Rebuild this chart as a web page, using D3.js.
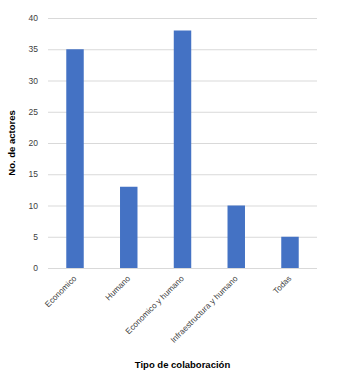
<!DOCTYPE html>
<html><head><meta charset="utf-8">
<script src="https://cdn.jsdelivr.net/npm/d3@7"></script>
<style>body{margin:0;background:#fff}</style>
</head><body>
<script>
const categories = ["Economico","Humano","Economico y humano","Infraestructura y humano","Todas"];
const values = [35, 13, 38, 10, 5];
const yTicks = [0,5,10,15,20,25,30,35,40];
const xTitle = "Tipo de colaboración";
const yTitle = "No. de actores";

const W = 347, H = 372;
const m = {left:48, right:30, top:18, bottom:104};
const svg = d3.select("body").append("svg").attr("width", W).attr("height", H);
const x = d3.scaleBand().domain(categories).range([m.left, W - m.right]).paddingInner(0.675).paddingOuter(0.34);
const y = d3.scaleLinear().domain([0, 40]).range([H - m.bottom, m.top]);

const font = "'Liberation Sans', Arial, sans-serif";

// gridlines
svg.append("g").selectAll("line").data(yTicks).join("line")
  .attr("x1", m.left).attr("x2", W - m.right)
  .attr("y1", d => y(d) + 0.5).attr("y2", d => y(d) + 0.5)
  .attr("stroke", "#d9d9d9").attr("stroke-width", 1);

// y axis labels
const yAxis = d3.axisLeft(y).tickValues(yTicks).tickSize(0).tickPadding(10);
const gy = svg.append("g").attr("transform", `translate(${m.left},0)`).call(yAxis);
gy.select(".domain").remove();
gy.selectAll("text").attr("font-family", font).attr("font-size", 8.5).attr("fill", "#404040");

// bars
svg.append("g").selectAll("rect").data(values).join("rect")
  .attr("x", (d, i) => x(categories[i]))
  .attr("width", x.bandwidth())
  .attr("y", d => y(d))
  .attr("height", d => y(0) - y(d))
  .attr("fill", "#4472c4");

// x axis labels
const xAxis = d3.axisBottom(x).tickSize(0).tickPadding(0);
const gx = svg.append("g").attr("transform", `translate(0,${y(0)})`).call(xAxis);
gx.select(".domain").remove();
gx.selectAll("text")
  .attr("font-family", font).attr("font-size", 8.2).attr("fill", "#404040")
  .attr("text-anchor", "end").attr("dy", null).attr("y", 0)
  .attr("transform", "translate(2,11) rotate(-45)");

// titles
svg.append("text").attr("x", (m.left + W - m.right) / 2).attr("y", 368)
  .attr("text-anchor", "middle").attr("font-family", font).attr("font-weight", "bold")
  .attr("font-size", 9.5).attr("fill", "#000").text(xTitle);
svg.append("text").attr("transform", `translate(15,${(m.top + H - m.bottom) / 2}) rotate(-90)`)
  .attr("text-anchor", "middle").attr("font-family", font).attr("font-weight", "bold")
  .attr("font-size", 9.5).attr("fill", "#000").text(yTitle);
</script>
</body></html>
